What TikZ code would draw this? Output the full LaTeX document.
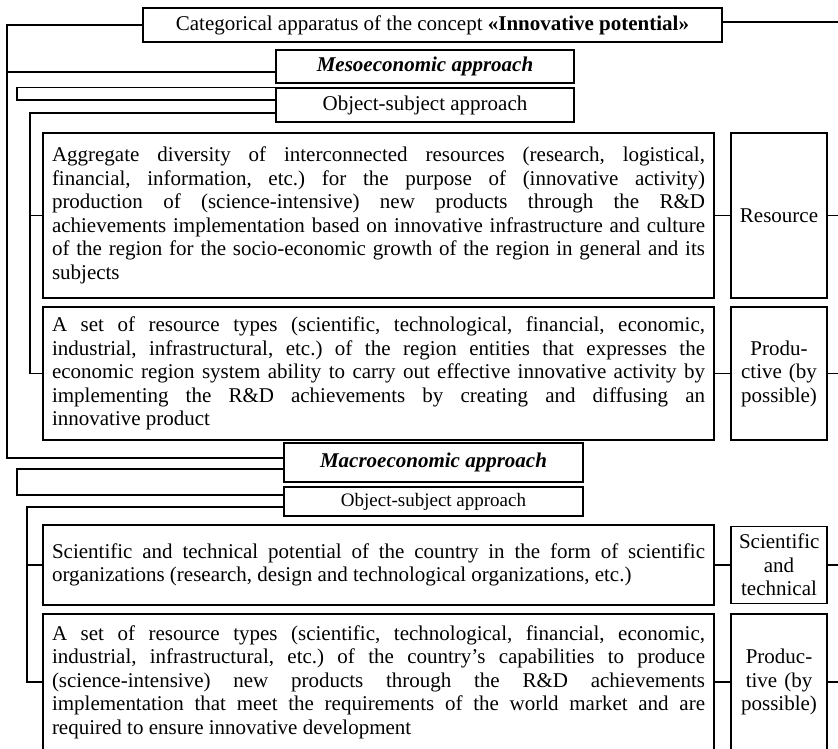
\documentclass[tikz,border=0pt]{standalone}
\usepackage{fontspec}
\setmainfont{Liberation Serif}
\frenchspacing
\begin{document}
\begin{tikzpicture}[x=1pt, y=-1pt, line width=1.1pt,
    every node/.style={font=\fontsize{21}{23.5}\selectfont},
    headbox/.style={draw, inner sep=0pt, minimum width=298pt},
    textbox/.style={draw, text width=653pt, inner xsep=9pt, inner ysep=0pt, align=justify},
    sidebox/.style={draw, text width=80pt, inner xsep=8pt, inner ysep=0pt, align=center}]
      \useasboundingbox (0, 0) rectangle (838, 748);

      \node[headbox, minimum width=579pt, minimum height=34pt] (title) at (432.5, 25)
        {Categorical apparatus of the concept \textbf{«Innovative potential»}};
      \node[headbox, minimum height=33pt] (meso) at (425, 66.5) {\textbf{\textit{Mesoeconomic approach}}};
      \node[headbox, minimum height=34pt] (objmeso) at (425, 105) {Object-subject approach};

      \node[textbox, minimum height=165pt] (aggr) at (378.5, 215.5)
        {Aggregate diversity of interconnected resources (research, logistical,\linebreak
         financial, information, etc.) for the purpose of (innovative activity)\linebreak
         production of (science-intensive) new products through the R\&D\linebreak
         achievements implementation based on innovative infrastructure and culture\linebreak
         of the region for the socio-economic growth of the region in general and its\linebreak
         subjects};
      \node[sidebox, minimum height=165pt] (resource) at (779, 215.5) {Resource};

      \node[textbox, minimum height=133pt] (setreg) at (378.5, 373.5)
        {A set of resource types (scientific, technological, financial, economic,\linebreak
         industrial, infrastructural, etc.) of the region entities that expresses the\linebreak
         economic region system ability to carry out effective innovative activity by\linebreak
         implementing the R\&D achievements by creating and diffusing an\linebreak
         innovative product};
      \node[sidebox, minimum height=133pt] (prodreg) at (779, 373.5) {Produ-\\ctive (by\\possible)};

      \node[headbox, minimum width=299pt, minimum height=39pt] (macro) at (433.5, 462.5) {\textbf{\textit{Macroeconomic approach}}};
      \node[headbox, minimum width=299pt, minimum height=29pt, font=\fontsize{19}{22}\selectfont] (objmacro) at (433.5, 501.5) {Object-subject approach};

      \node[textbox, minimum height=80pt] (scitech) at (378.5, 565)
        {Scientific and technical potential of the country in the form of scientific\linebreak
         organizations (research, design and technological organizations, etc.)};
      \node[sidebox, minimum height=77pt] (scibox) at (779, 565) {Scientific\\and\\technical};

      \node[textbox, minimum height=136pt] (setcountry) at (378.5, 682)
        {A set of resource types (scientific, technological, financial, economic,\linebreak
         industrial, infrastructural, etc.) of the country's capabilities to produce\linebreak
         (science-intensive) new products through the R\&D achievements\linebreak
         implementation that meet the requirements of the world market and are\linebreak
         required to ensure innovative development};
      \node[sidebox, minimum height=136pt] (prodcountry) at (779, 682) {Produc-\\tive (by\\possible)};

      \coordinate (railA) at (7, 0);
      \coordinate (railB) at (17, 0);
      \coordinate (railC) at (30, 0);
      \coordinate (railD) at (27, 0);
      \coordinate (edge) at (838, 0);

      \coordinate (titleout) at ([yshift=3pt]title.east);
      \coordinate (mesoin) at ([yshift=-5.5pt]meso.west);
      \coordinate (objmesoin) at ([yshift=5pt]objmeso.west);
      \coordinate (objmesoout) at ([yshift=-8pt]objmeso.west);
      \coordinate (macroin) at ([yshift=4.5pt]macro.west);
      \coordinate (macroout) at ([yshift=-6.5pt]macro.west);
      \coordinate (objmacroin) at ([yshift=6.5pt]objmacro.west);
      \coordinate (objmacroout) at ([yshift=-5.5pt]objmacro.west);

      \draw (titleout) -- (titleout -| edge);
      \draw (title.west) -| (railA |- macroin) -- (macroin);
      \draw (railA |- mesoin) -- (mesoin);

      \draw (objmeso.north west) -- (objmeso.north west -| railB) |- (objmesoin);
      \draw (objmesoout) -| (railC |- setreg.west) -- (setreg.west);
      \draw (railC |- aggr.west) -- (aggr.west);

      \draw (aggr.east) -- (resource.west);
      \draw (resource.east) -- (resource.east -| edge);
      \draw (setreg.east) -- (prodreg.west);
      \draw (prodreg.east) -- (prodreg.east -| edge);

      \draw (macroout) -| (railB |- objmacroin) -- (objmacroin);
      \draw (objmacroout) -| (railD |- setcountry.west) -- (setcountry.west);
      \draw (railD |- scitech.west) -- (scitech.west);

      \draw (scitech.east) -- (scibox.west);
      \draw (scibox.east) -- (scibox.east -| edge);
      \draw (setcountry.east) -- (prodcountry.west);
      \draw (prodcountry.east) -- (prodcountry.east -| edge);
\end{tikzpicture}
\end{document}
